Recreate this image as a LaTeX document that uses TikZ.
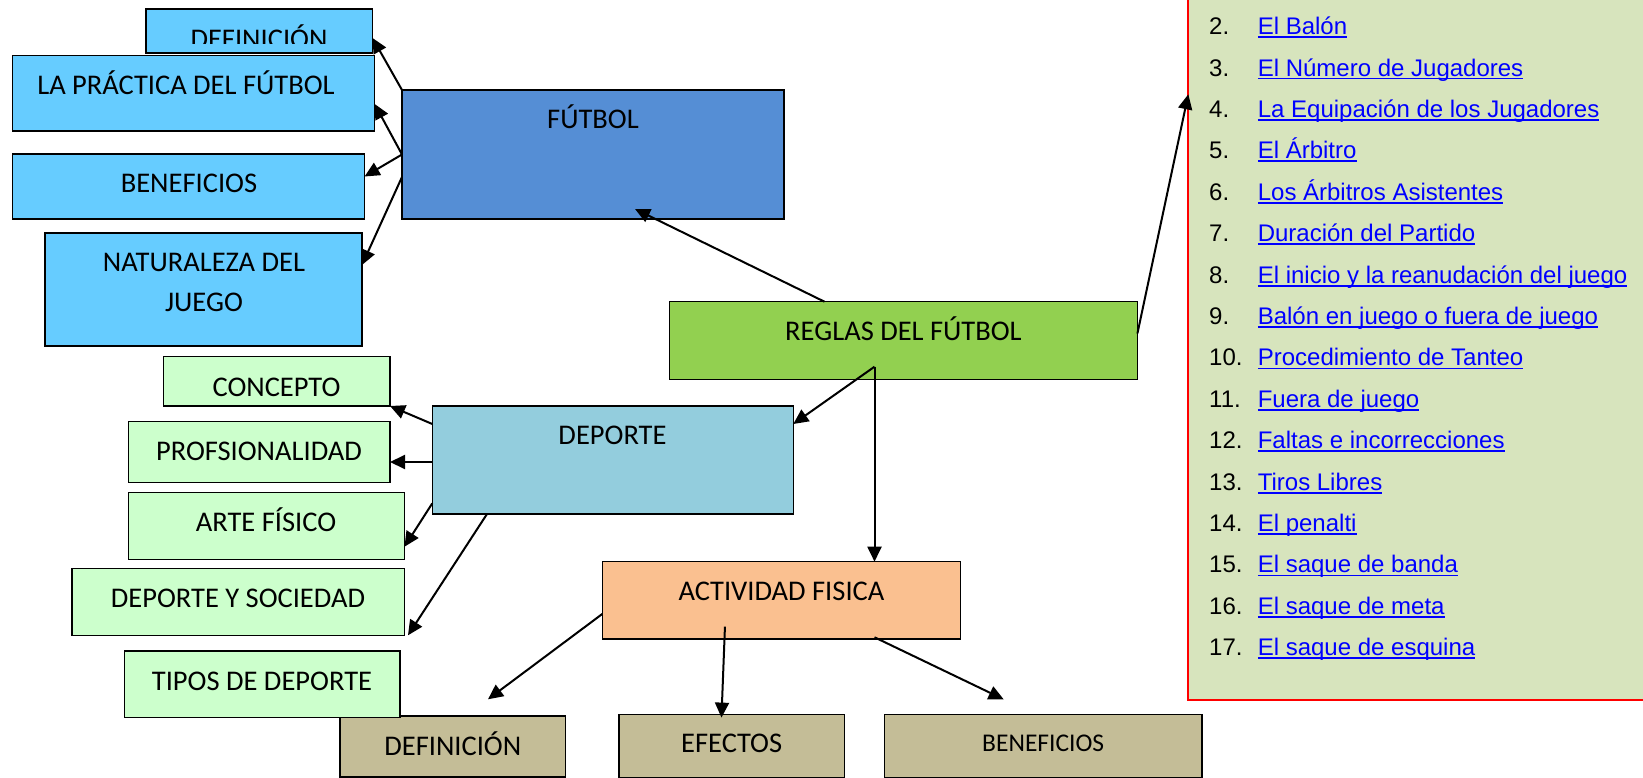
\documentclass[tikz,border=0pt]{standalone}
\usepackage{fontspec}
\setmainfont{Carlito}
\newfontfamily\arialf{Liberation Sans}
\usetikzlibrary{arrows.meta,calc}
\definecolor{cFut}{HTML}{558ED5}
\definecolor{cLB}{HTML}{66CCFF}
\definecolor{cReg}{HTML}{92D050}
\definecolor{cDep}{HTML}{93CDDD}
\definecolor{cLG}{HTML}{CCFFCC}
\definecolor{cAct}{HTML}{FAC090}
\definecolor{cTan}{HTML}{C4BD97}
\definecolor{cList}{HTML}{D7E4BD}
\definecolor{cLink}{HTML}{0000FF}
\newcommand\lnk[1]{\setbox0=\hbox{#1}\rlap{\vrule height -1.6pt depth 3.4pt width \wd0}\box0}
\newcommand\bx[6]{\node[boxst, fill=#6, minimum width={#4pt-#2pt}, minimum height={#5pt-#3pt}] (#1) at ({(#2+#4)/2},{(#3+#5)/2}) {};}
\tikzset{
  boxst/.style={draw=black, line width=1.5pt, inner sep=0pt, outer sep=0pt},
  txt/.style={font=\fontsize{28.5pt}{34pt}\selectfont, inner sep=0pt, anchor=base},
  txts/.style={font=\fontsize{25.5pt}{30pt}\selectfont, inner sep=0pt, anchor=base},
  arr/.style={line width=2pt, -{Triangle[length=15pt,width=14pt]}},
  lnum/.style={font=\arialf\fontsize{24pt}{28pt}\selectfont, inner sep=0pt, anchor=base west},
  ltxt/.style={font=\arialf\fontsize{24pt}{28pt}\selectfont, text=cLink, inner sep=0pt, anchor=base west}
}
\begin{document}
\begin{tikzpicture}[x=1pt,y=-1pt]
\useasboundingbox (0,0) rectangle (1643,778);
% list box
\node[draw=red, line width=2pt, fill=cList, inner sep=0pt, outer sep=0pt, minimum width=490pt, minimum height=720pt, anchor=north west] (list) at (1188.3,-20) {};
% boxes
\bx{def1}{146}{9}{372.5}{53}{cLB}
\bx{prac}{12.6}{55.7}{374.6}{131}{cLB}
\bx{ben1}{12.6}{154}{364.6}{219}{cLB}
\bx{nat}{45}{233}{362}{346}{cLB}
\bx{fut}{402}{90}{784}{219}{cFut}
\bx{reg}{669.6}{301.7}{1137.4}{379.3}{cReg}
\bx{dep}{432.3}{406}{793.3}{514}{cDep}
\bx{conc}{163.7}{356.7}{390}{406}{cLG}
\bx{prof}{128.5}{421.7}{390}{482.3}{cLG}
\bx{arte}{128.5}{492.7}{404.5}{559.3}{cLG}
\bx{soc}{72}{568.7}{404.5}{635.3}{cLG}
\bx{act}{602.3}{561.7}{960.6}{639}{cAct}
\bx{def2}{340}{716}{565.6}{777}{cTan}
\bx{tipos}{124.3}{651}{400}{717.7}{cLG}
\bx{eff}{619}{714.6}{844.5}{777.5}{cTan}
\bx{ben2}{884.5}{714.3}{1202}{777.3}{cTan}
% texts
\begin{scope}
\clip (146,9) rectangle (372.5,43.5);
\node[txt] (t-def1) at (259,48.4) {DEFINICIÓN};
\end{scope}
\node[txt] (t-prac) at (186,94.3) {LA PRÁCTICA DEL FÚTBOL};
\node[txt] (t-ben1) at (189,192.7) {BENEFICIOS};
\node[txt] (t-nat1) at (204,271.7) {NATURALEZA DEL};
\node[txt] (t-nat2) at (204,311) {JUEGO};
\node[txt] (t-fut) at (593,129) {FÚTBOL};
\node[txt] (t-reg) at (903.5,340.7) {REGLAS DEL FÚTBOL};
\node[txt] (t-dep) at (612.5,444.3) {DEPORTE};
\node[txt] (t-conc) at (276.5,396) {CONCEPTO};
\node[txt] (t-prof) at (259,460.7) {PROFSIONALIDAD};
\node[txt] (t-arte) at (266,531) {ARTE FÍSICO};
\node[txt] (t-soc) at (238,607.7) {DEPORTE Y SOCIEDAD};
\node[txt] (t-tipos) at (262,690) {TIPOS DE DEPORTE};
\node[txt] (t-act) at (781.5,600.7) {ACTIVIDAD FISICA};
\node[txt] (t-def2) at (452.8,755) {DEFINICIÓN};
\node[txt] (t-eff) at (731.7,752.7) {EFECTOS};
\node[txts] (t-ben2) at (1043.2,751.7) {BENEFICIOS};
% list items
\foreach \n/\t [count=\i from 0] in {2/El Balón,3/El Número de Jugadores,4/La Equipación de los Jugadores,5/El Árbitro,6/Los Árbitros Asistentes,7/Duración del Partido,8/El inicio y la reanudación del juego,9/Balón en juego o fuera de juego,10/Procedimiento de Tanteo,11/Fuera de juego,12/Faltas e incorrecciones,13/Tiros Libres,14/El penalti,15/El saque de banda,16/El saque de meta,17/El saque de esquina}{
  \node[lnum] (n\n) at (1209,{34.7+\i*41.4}) {\n.};
  \node[ltxt] (l\n) at (1257.6,{34.7+\i*41.4}) {\lnk{\t}};
}
% connectors
\draw[arr] (fut.north west) -- ([yshift=-7pt]def1.east);
\draw[arr] (fut.west) -- ([yshift=-10.6pt]prac.east);
\draw[arr] (fut.west) -- ([yshift=10pt]ben1.east);
\draw[arr] ([yshift=-22.5pt]fut.west) -- ([yshift=24.5pt]nat.east);
\draw[arr] ([xshift=-79pt]reg.north) -- ([xshift=42pt,yshift=10pt]fut.south);
\coordinate (rb) at ([xshift=-29pt,yshift=12.6pt]reg.south);
\draw[arr] (rb) -- ([yshift=-18pt]dep.north east);
\draw[arr] (rb) -- (rb |- act.north);
\draw[arr] ([yshift=7pt]reg.east) -- ([yshift=-114.3pt]list.north west);
\draw[arr] ([yshift=-18pt]dep.north west) -- (conc.south east);
\coordinate (dw) at ([yshift=-2pt]dep.west);
\draw[arr] (dw) -- (dw -| prof.east);
\draw[arr] ([yshift=10.7pt]dep.south west) -- ([yshift=12.6pt]arte.south east);
\draw[arr] ([xshift=54.7pt]dep.south west) -- ([xshift=3.5pt]soc.south east);
\draw[arr] ([yshift=-13.6pt]act.west) -- ([xshift=35.2pt,yshift=16.7pt]def2.north);
\draw[arr] ([xshift=-56.5pt,yshift=12.3pt]act.south) -- ([xshift=-10.3pt,yshift=-3pt]eff.north);
\draw[arr] ([xshift=93.1pt,yshift=1.7pt]act.south) -- ([xshift=-39.6pt,yshift=15pt]ben2.north);
\end{tikzpicture}
\end{document}
